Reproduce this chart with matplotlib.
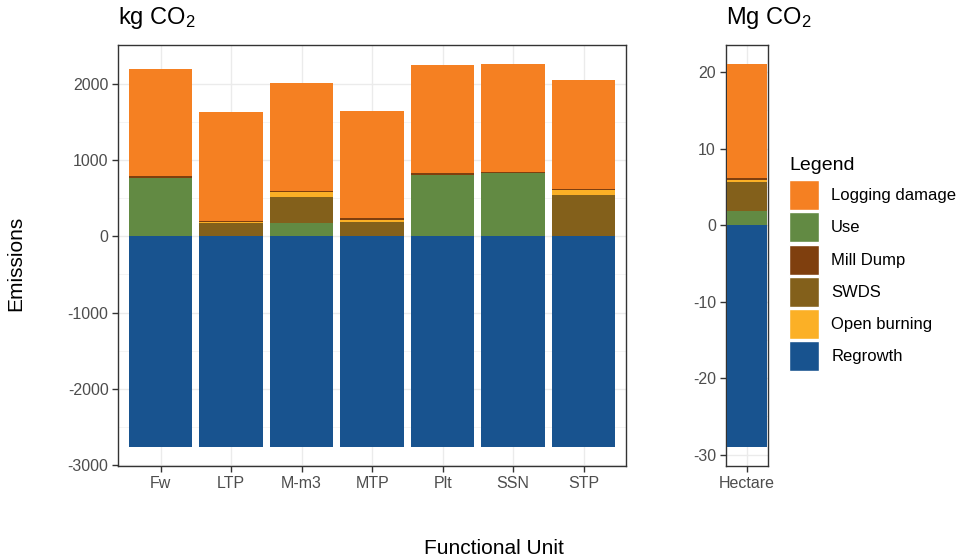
import matplotlib
matplotlib.use("Agg")
import matplotlib.pyplot as plt
from matplotlib.patches import Patch
import numpy as np

plt.rcParams['font.family'] = ['Liberation Sans', 'DejaVu Sans']
plt.rcParams['mathtext.default'] = 'regular'
plt.rcParams['axes.unicode_minus'] = False

# ---- data ----
units = ["Fw", "LTP", "M-m3", "MTP", "Plt", "SSN", "STP"]
regrowth = [-2760, -2760, -2760, -2760, -2760, -2760, -2760]
use = [770, 0, 170, 0, 809, 826, 0]
swds = [0, 170, 348, 183, 0, 0, 535]
open_burning = [0, 21, 56, 35, 0, 0, 65]
mill_dump = [15, 14, 18, 26, 17, 17, 22]
logging_damage = [1402, 1421, 1416, 1399, 1417, 1417, 1421]

hect_units = ["Hectare"]
hect_regrowth = [-29.0]
hect_use = [1.87]
hect_swds = [3.78]
hect_open_burning = [0.25]
hect_mill_dump = [0.3]
hect_logging_damage = [14.9]

legend_labels = ["Logging damage", "Use", "Mill Dump", "SWDS", "Open burning", "Regrowth"]
colors = {
    "Logging damage": "#F58022",
    "Use": "#628A43",
    "Mill Dump": "#7F3F0E",
    "SWDS": "#83601B",
    "Open burning": "#FBB026",
    "Regrowth": "#18538F",
}

W, H = 962, 560
fig = plt.figure(figsize=(W / 100, H / 100), dpi=100)

def frac(x0, x1, y0, y1):
    return [x0 / W, 1 - y1 / H, (x1 - x0) / W, (y1 - y0) / H]

axL = fig.add_axes(frac(118.3, 626, 44.7, 466))
axR = fig.add_axes(frac(725.7, 768.3, 44.7, 466))

def draw(ax, cats, reg, us, sw, ob, md, ld):
    x = np.arange(1, len(cats) + 1)
    bw = 0.9
    ax.bar(x, reg, width=bw, color=colors["Regrowth"], zorder=3)
    bottom = np.zeros(len(cats))
    for name, vals in [("Use", us), ("SWDS", sw), ("Open burning", ob),
                       ("Mill Dump", md), ("Logging damage", ld)]:
        v = np.array(vals, dtype=float)
        ax.bar(x, v, width=bw, bottom=bottom, color=colors[name], zorder=3)
        bottom = bottom + v
    ax.set_xticks(x)
    ax.set_xticklabels(cats)
    return x

def style(ax):
    ax.set_facecolor("white")
    for s in ax.spines.values():
        s.set_color("#333333")
        s.set_linewidth(1.0)
    ax.grid(True, which="major", color="#EBEBEB", linewidth=1.0, zorder=0)
    ax.grid(True, which="minor", axis="y", color="#F2F2F2", linewidth=0.6, zorder=0)
    ax.tick_params(axis="both", which="major", colors="#333333", labelcolor="#4D4D4D",
                   labelsize=11.5, length=4, width=1.0, pad=3)
    ax.tick_params(axis="both", which="minor", length=0)
    ax.set_axisbelow(True)

draw(axL, units, regrowth, use, swds, open_burning, mill_dump, logging_damage)
axL.set_xlim(0.4, len(units) + 0.6)
axL.set_ylim(-3011, 2511)
axL.set_yticks([-3000, -2000, -1000, 0, 1000, 2000])
axL.set_yticks([-2500, -1500, -500, 500, 1500], minor=True)
style(axL)

draw(axR, hect_units, hect_regrowth, hect_use, hect_swds, hect_open_burning,
     hect_mill_dump, hect_logging_damage)
axR.set_xlim(0.52, 1.48)
axR.set_ylim(-31.5, 23.6)
axR.set_yticks([-30, -20, -10, 0, 10, 20])
axR.set_yticks([-25, -15, -5, 5, 15], minor=True)
style(axR)

fig.text(118.3 / W, 1 - 24 / H, "kg CO$_2$", fontsize=17, ha="left", va="baseline", color="black")
fig.text(725.7 / W, 1 - 24 / H, "Mg CO$_2$", fontsize=17, ha="left", va="baseline", color="black")
fig.text(16 / W, 1 - 263 / H, "Emissions", fontsize=15, rotation=90, ha="center", va="center")
fig.text(494 / W, 1 - 548 / H, "Functional Unit", fontsize=15, ha="center", va="center")

# legend title and keys
fig.text(789 / W, 1 - 170 / H, "Legend", fontsize=14, ha="left", va="baseline", color="black")
handles = [Patch(facecolor=colors[n], edgecolor="white", linewidth=1.0) for n in legend_labels]
leg = fig.legend(handles, legend_labels, loc="upper left",
                 bbox_to_anchor=(789 / W, 1 - 180 / H), frameon=False,
                 fontsize=12,
                 handlelength=1.78, handleheight=2.4, labelspacing=0.13,
                 handletextpad=0.75, borderpad=0, borderaxespad=0)

fig.savefig("out.png", dpi=100)
